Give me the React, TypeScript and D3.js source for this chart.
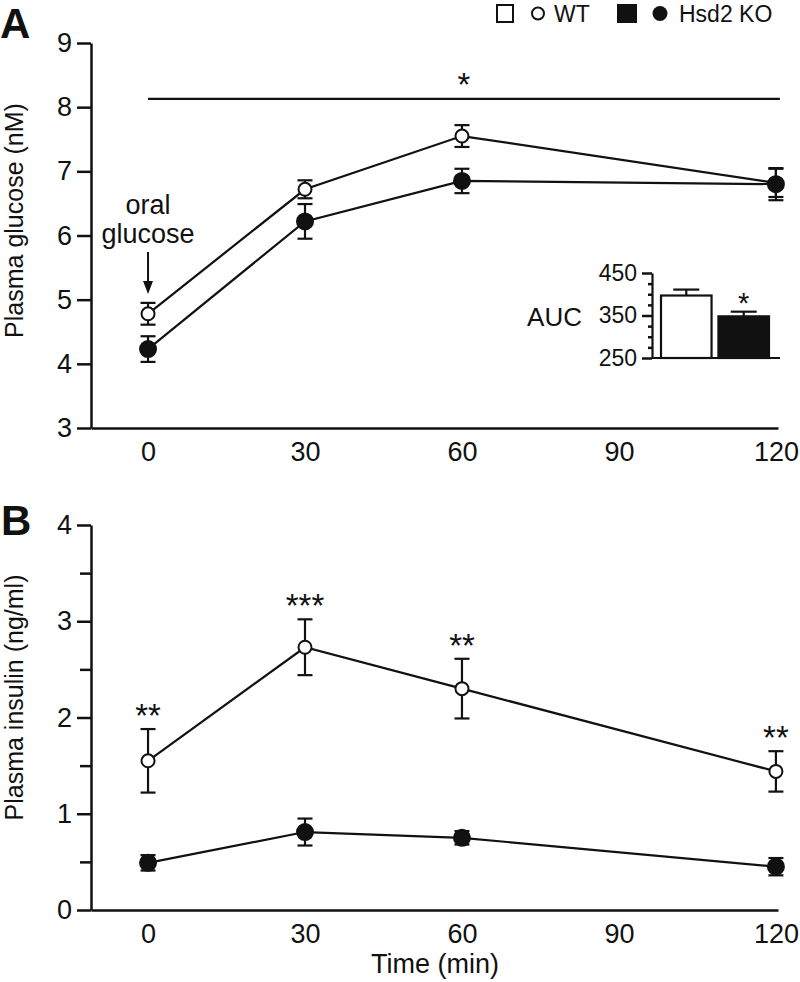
import * as d3 from "d3";
import { useRef, useEffect } from "react";

const times = [0, 30, 60, 120];
const xTicks = [0, 30, 60, 90, 120];
const glucoseWT = [4.78, 6.72, 7.55, 6.82];
const glucoseWTErr = [0.17, 0.14, 0.17, 0.22];
const glucoseKO = [4.23, 6.22, 6.85, 6.8];
const glucoseKOErr = [0.2, 0.27, 0.19, 0.25];
const glucoseSigLevel = 8.13;
const insulinWT = [1.55, 2.73, 2.3, 1.44];
const insulinWTErr = [0.33, 0.29, 0.31, 0.21];
const insulinKO = [0.49, 0.81, 0.75, 0.45];
const insulinKOErr = [0.08, 0.14, 0.07, 0.09];
const insulinStars = ["**", "***", "**", "**"];
const aucGroups = ["WT", "Hsd2 KO"];
const aucValues = [397, 348];
const aucErr = [14, 11];
const aucStars = ["", "*"];

const FONT = "'Liberation Sans', Arial, Helvetica, sans-serif";
const INK = "#111";

function styleAxis(g: d3.Selection<SVGGElement, unknown, null, undefined>, fontSize: number) {
    g.attr("font-size", null).attr("font-family", null);
    g.select(".domain").attr("stroke", INK).attr("stroke-width", 2.5);
    g.selectAll(".tick line").attr("stroke", INK).attr("stroke-width", 2.5);
    g.selectAll(".tick text").attr("fill", INK).attr("font-size", fontSize).attr("font-family", FONT);
}

type SeriesProps = {
    x: d3.ScaleLinear<number, number>;
    y: d3.ScaleLinear<number, number>;
    vals: number[];
    errs: number[];
};

function ErrorBars({ x, y, vals, errs }: SeriesProps) {
    const cap = 7.5;
    return (
        <g stroke={INK} strokeWidth={2.2}>
            {vals.map((v, i) => {
                const cx = x(times[i]);
                const y0 = y(v - errs[i]);
                const y1 = y(v + errs[i]);
                return (
                    <g key={i}>
                        <line x1={cx} x2={cx} y1={y0} y2={y1} />
                        <line x1={cx - cap} x2={cx + cap} y1={y0} y2={y0} />
                        <line x1={cx - cap} x2={cx + cap} y1={y1} y2={y1} />
                    </g>
                );
            })}
        </g>
    );
}

function SeriesLine({ x, y, vals }: SeriesProps) {
    const line = d3.line<number>((_, i) => x(times[i]), (d) => y(d));
    return <path d={line(vals) ?? ""} fill="none" stroke={INK} strokeWidth={2.2} />;
}

function Markers({ x, y, vals, filled }: SeriesProps & { filled: boolean }) {
    return (
        <g>
            {vals.map((v, i) => (
                <circle
                    key={i}
                    cx={x(times[i])}
                    cy={y(v)}
                    r={filled ? 8 : 6.5}
                    fill={filled ? INK : "white"}
                    stroke={INK}
                    strokeWidth={2}
                />
            ))}
        </g>
    );
}

export default function App() {
    const width = 800;
    const height = 982;
    const axisLeftX = 91;

    // panel A
    const xA = d3.scaleLinear([-10.9, 120.4], [axisLeftX, 778]);
    const yA = d3.scaleLinear([3, 9], [428, 43]);
    // panel B
    const xB = d3.scaleLinear([-10.9, 120.4], [axisLeftX, 778]);
    const yB = d3.scaleLinear([0, 4], [910, 525]);
    // inset AUC
    const insetX = 652;
    const yI = d3.scaleLinear([250, 450], [358, 273]);
    const xI = d3.scaleBand(aucGroups, [661, 769]).paddingInner(0.12);

    const gxA = useRef<SVGGElement>(null);
    const gyA = useRef<SVGGElement>(null);
    const gxB = useRef<SVGGElement>(null);
    const gyB = useRef<SVGGElement>(null);
    const gyI = useRef<SVGGElement>(null);

    useEffect(() => {
        if (gxA.current) {
            const g = d3.select(gxA.current);
            g.call(d3.axisBottom(xA).tickValues(xTicks).tickSize(0).tickPadding(14).tickSizeOuter(0));
            styleAxis(g, 27);
        }
        if (gyA.current) {
            const g = d3.select(gyA.current);
            g.call(d3.axisLeft(yA).ticks(6).tickSize(14).tickPadding(5).tickSizeOuter(0));
            styleAxis(g, 27);
        }
        if (gxB.current) {
            const g = d3.select(gxB.current);
            g.call(d3.axisBottom(xB).tickValues(xTicks).tickSize(0).tickPadding(14).tickSizeOuter(0));
            styleAxis(g, 27);
        }
        if (gyB.current) {
            const g = d3.select(gyB.current);
            g.call(
                d3.axisLeft(yB)
                    .tickValues(d3.range(0, 4.01, 0.5))
                    .tickFormat((d) => (Number(d) % 1 === 0 ? String(d) : ""))
                    .tickSize(14)
                    .tickPadding(5)
                    .tickSizeOuter(0)
            );
            styleAxis(g, 27);
            g.selectAll<SVGGElement, number>(".tick")
                .filter((d) => d % 1 !== 0)
                .select("line")
                .attr("x2", -11);
        }
        if (gyI.current) {
            const g = d3.select(gyI.current);
            g.call(
                d3.axisLeft(yI)
                    .tickValues(d3.range(250, 451, 25))
                    .tickFormat((d) => (Number(d) % 100 === 50 ? String(d) : ""))
                    .tickSize(10)
                    .tickPadding(5)
                    .tickSizeOuter(0)
            );
            styleAxis(g, 23);
            g.select(".domain").attr("stroke-width", 2.2);
            g.selectAll<SVGGElement, number>(".tick")
                .filter((d) => d % 100 !== 50)
                .select("line")
                .attr("x2", -4);
        }
    }, []);

    // asterisk glyph centre sits ~0.575em above the baseline
    const starOffset = (fs: number) => fs * 0.575;

    return (
        <svg
            width={width}
            height={height}
            style={{ position: "absolute", left: 0, top: 0, background: "white" }}
            fontFamily={FONT}
        >
            {/* legend */}
            <g>
                <rect x={497} y={5} width={16} height={17} fill="white" stroke={INK} strokeWidth={2} />
                <circle cx={538} cy={13.5} r={6} fill="white" stroke={INK} strokeWidth={2} />
                <text x={554} y={21.5} fontSize={23} fill={INK}>WT</text>
                <rect x={617} y={4} width={20} height={19} fill={INK} />
                <circle cx={660} cy={13.5} r={7.5} fill={INK} />
                <text x={679} y={21.5} fontSize={23} fill={INK}>Hsd2 KO</text>
            </g>

            {/* panel A */}
            <text x={0} y={38} fontSize={42} fontWeight="bold" fill={INK}>A</text>
            <g ref={gxA} transform={`translate(0,${yA(3)})`} />
            <g ref={gyA} transform={`translate(${axisLeftX},0)`} />
            <text
                transform={`translate(23,${(yA(3) + yA(9)) / 2 - 15}) rotate(-90)`}
                textAnchor="middle"
                fontSize={25}
                fill={INK}
            >
                Plasma glucose (nM)
            </text>
            <line
                x1={xA(0)}
                x2={xA(120) + 4}
                y1={yA(glucoseSigLevel)}
                y2={yA(glucoseSigLevel)}
                stroke={INK}
                strokeWidth={2.2}
            />
            <text x={xA(60) + 2} y={77 + starOffset(33)} textAnchor="middle" fontSize={33} fill={INK}>*</text>

            <text x={xA(0)} y={214} textAnchor="middle" fontSize={27} fill={INK}>oral</text>
            <text x={xA(0)} y={243} textAnchor="middle" fontSize={27} fill={INK}>glucose</text>
            <line x1={xA(0)} x2={xA(0)} y1={252} y2={284} stroke={INK} strokeWidth={2} />
            <path d={`M${xA(0) - 5},${281} L${xA(0) + 5},${281} L${xA(0)},${294} Z`} fill={INK} />

            <ErrorBars x={xA} y={yA} vals={glucoseWT} errs={glucoseWTErr} />
            <ErrorBars x={xA} y={yA} vals={glucoseKO} errs={glucoseKOErr} />
            <SeriesLine x={xA} y={yA} vals={glucoseWT} errs={glucoseWTErr} />
            <SeriesLine x={xA} y={yA} vals={glucoseKO} errs={glucoseKOErr} />
            <Markers x={xA} y={yA} vals={glucoseWT} errs={glucoseWTErr} filled={false} />
            <Markers x={xA} y={yA} vals={glucoseKO} errs={glucoseKOErr} filled={true} />

            {/* inset AUC */}
            <g ref={gyI} transform={`translate(${insetX},0)`} />
            <line x1={insetX} x2={780} y1={yI(250)} y2={yI(250)} stroke={INK} strokeWidth={2.2} />
            <text x={582} y={326} textAnchor="end" fontSize={26} fill={INK}>AUC</text>
            {aucGroups.map((g, i) => {
                const bx = xI(g) ?? 0;
                const bw = xI.bandwidth();
                const cx = bx + bw / 2;
                const top = yI(aucValues[i]);
                const errTop = yI(aucValues[i] + aucErr[i]);
                return (
                    <g key={g}>
                        <line x1={cx} x2={cx} y1={top} y2={errTop} stroke={INK} strokeWidth={2.2} />
                        <line x1={cx - 13} x2={cx + 13} y1={errTop} y2={errTop} stroke={INK} strokeWidth={2.2} />
                        <rect
                            x={bx}
                            y={top}
                            width={bw}
                            height={yI(250) - top}
                            fill={i === 0 ? "white" : INK}
                            stroke={INK}
                            strokeWidth={2.2}
                        />
                        {aucStars[i] && (
                            <text x={cx} y={errTop - 15 + starOffset(29)} textAnchor="middle" fontSize={29} fill={INK}>
                                {aucStars[i]}
                            </text>
                        )}
                    </g>
                );
            })}

            {/* panel B */}
            <text x={1} y={535} fontSize={42} fontWeight="bold" fill={INK}>B</text>
            <g ref={gxB} transform={`translate(0,${yB(0)})`} />
            <g ref={gyB} transform={`translate(${axisLeftX},0)`} />
            <text
                transform={`translate(23,${(yB(0) + yB(4)) / 2 - 20}) rotate(-90)`}
                textAnchor="middle"
                fontSize={25}
                fill={INK}
            >
                Plasma insulin (ng/ml)
            </text>
            <text x={435} y={973} textAnchor="middle" fontSize={27} fill={INK}>Time (min)</text>

            <ErrorBars x={xB} y={yB} vals={insulinWT} errs={insulinWTErr} />
            <ErrorBars x={xB} y={yB} vals={insulinKO} errs={insulinKOErr} />
            <SeriesLine x={xB} y={yB} vals={insulinWT} errs={insulinWTErr} />
            <SeriesLine x={xB} y={yB} vals={insulinKO} errs={insulinKOErr} />
            <Markers x={xB} y={yB} vals={insulinWT} errs={insulinWTErr} filled={false} />
            <Markers x={xB} y={yB} vals={insulinKO} errs={insulinKOErr} filled={true} />
            {insulinStars.map((s, i) => (
                <text
                    key={i}
                    x={xB(times[i])}
                    y={yB(insulinWT[i] + insulinWTErr[i]) - 21 + starOffset(33)}
                    textAnchor="middle"
                    fontSize={33}
                    fill={INK}
                >
                    {s}
                </text>
            ))}
        </svg>
    );
}
